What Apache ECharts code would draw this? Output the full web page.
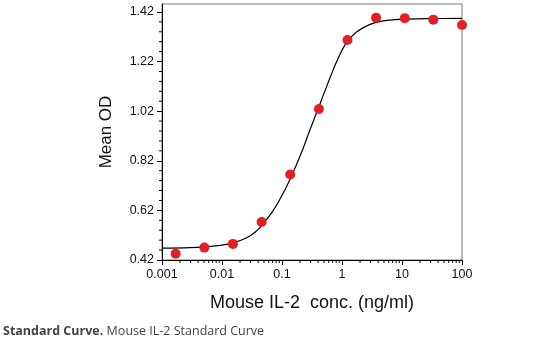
<!DOCTYPE html>
<html>
<head>
<meta charset="utf-8">
<script src="https://cdn.jsdelivr.net/npm/echarts@6/dist/echarts.min.js"></script>
<style>
html,body{margin:0;padding:0;background:#fff;}
#chart{width:559px;height:350px;}
</style>
</head>
<body>
<div id="chart"></div>
<script>
// Measured standards (ng/ml) and mean OD
const concX = [0.00169, 0.00508, 0.0152, 0.0457, 0.137, 0.412, 1.235, 3.70, 11.1, 33.3, 100];
const meanOD = [0.445, 0.470, 0.485, 0.573, 0.765, 1.029, 1.307, 1.397, 1.395, 1.389, 1.367];

// Fitted standard curve
const curveX = [0.001, 0.00293, 0.0052, 0.00926, 0.015, 0.0258, 0.0355, 0.047, 0.0716, 0.105, 0.148, 0.213, 0.293, 0.40, 0.556, 0.816, 1.18, 1.76, 2.93, 4.88, 9.26, 29.3, 100];
const curveY = [0.468, 0.470, 0.473, 0.479, 0.488, 0.510, 0.532, 0.562, 0.620, 0.690, 0.765, 0.855, 0.945, 1.030, 1.120, 1.220, 1.295, 1.340, 1.370, 1.384, 1.390, 1.393, 1.394];

// Axis ticks
const xTickLabels = ['0.001', '0.01', '0.1', '1', '10', '100'];
const yTickLabels = ['0.42', '0.62', '0.82', '1.02', '1.22', '1.42'];
const xDecades = [0.001, 0.01, 0.1, 1, 10];
const xMinorMult = [2, 3, 4, 5, 6, 7, 8, 9];
const yMinorSteps = [0.04, 0.08, 0.12, 0.16];

const yTicks = yTickLabels.map(Number);
const xMinor = [];
xDecades.forEach(d => xMinorMult.forEach(m => xMinor.push([+(d * m).toPrecision(3), 0.42])));
const yMinor = [];
yTicks.slice(0, -1).forEach(t => yMinorSteps.forEach(s => yMinor.push([0.001, +(t + s).toFixed(2)])));

const font = '"Liberation Sans", Arial, Helvetica, sans-serif';

const chart = echarts.init(document.getElementById('chart'), null, {renderer: 'canvas'});
chart.setOption({
  animation: false,
  backgroundColor: '#ffffff',
  grid: {left: 162, right: 97, top: 4, bottom: 90, show: true, borderColor: '#777', borderWidth: 1, backgroundColor: 'transparent'},
  xAxis: {
    type: 'log', logBase: 10, min: 0.001, max: 100,
    name: 'Mouse IL-2  conc. (ng/ml)', nameLocation: 'middle', nameGap: 34,
    nameTextStyle: {fontFamily: font, fontSize: 18, color: '#111'},
    axisLine: {show: true, lineStyle: {color: '#000', width: 1}},
    axisTick: {show: true, inside: false, length: 5, lineStyle: {color: '#000'}},
    axisLabel: {
      fontFamily: font, fontSize: 12.5, color: '#111', margin: 8,
      formatter: v => {
        const l = xTickLabels.find(s => Math.abs(Math.log10(Number(s)) - Math.log10(v)) < 1e-6);
        return l === undefined ? '' : l;
      }
    },
    splitLine: {show: false}
  },
  yAxis: {
    type: 'value', min: 0.42, max: 1.452, interval: 0.2,
    name: 'Mean OD', nameLocation: 'middle', nameGap: 47,
    nameTextStyle: {fontFamily: font, fontSize: 17, color: '#111'},
    axisLine: {show: true, lineStyle: {color: '#000', width: 1}},
    axisTick: {show: true, inside: false, length: 5, lineStyle: {color: '#000'}},
    minorTick: {show: false},
    axisLabel: {fontFamily: font, fontSize: 12.5, color: '#111', margin: 8, showMaxLabel: false,
      formatter: v => yTickLabels.find(s => Math.abs(Number(s) - v) < 1e-6) || ''},
    splitLine: {show: false}
  },
  series: [
    {
      type: 'line', data: curveX.map((x, i) => [x, curveY[i]]),
      smooth: 0.35, showSymbol: false, symbol: 'none',
      lineStyle: {color: '#000', width: 1.2}, z: 2
    },
    {
      type: 'scatter', data: concX.map((x, i) => [x, meanOD[i]]),
      symbol: 'circle', symbolSize: 10,
      itemStyle: {color: '#e41e25', opacity: 1}, z: 3, clip: false
    },
    {
      type: 'custom', data: xMinor, clip: false, silent: true, z: 1,
      renderItem: (params, api) => {
        const p = api.coord([api.value(0), api.value(1)]);
        return {type: 'line', shape: {x1: p[0], y1: p[1], x2: p[0], y2: p[1] + 3}, style: {stroke: '#000', lineWidth: 1}};
      }
    },
    {
      type: 'custom', data: yMinor, clip: false, silent: true, z: 1,
      renderItem: (params, api) => {
        const p = api.coord([api.value(0), api.value(1)]);
        return {type: 'line', shape: {x1: p[0], y1: p[1], x2: p[0] - 3, y2: p[1]}, style: {stroke: '#000', lineWidth: 1}};
      }
    }
  ],
  graphic: [{
    type: 'text', left: 3, top: 325,
    style: {
      text: '{b|Standard Curve.} {n|Mouse IL-2 Standard Curve}',
      rich: {
        b: {fontFamily: '"Open Sans", Arial, sans-serif', fontSize: 12.5, fontWeight: 'bold', fill: '#444'},
        n: {fontFamily: '"Open Sans", Arial, sans-serif', fontSize: 12.5, fill: '#444'}
      }
    }
  }]
});
</script>
</body>
</html>
